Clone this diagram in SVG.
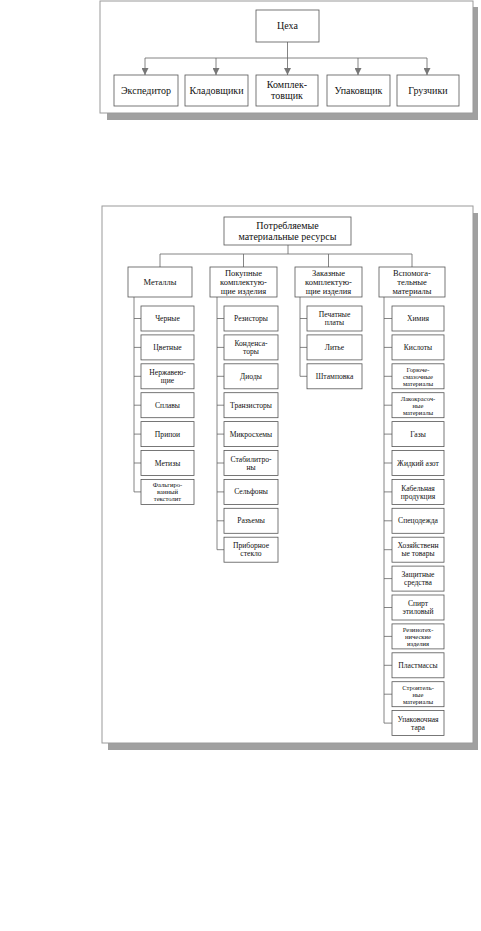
<svg xmlns="http://www.w3.org/2000/svg" width="481" height="931" viewBox="0 0 481 931">
<defs>
<style>
.bg{fill:#fff}
.panel{fill:#fff;stroke:#9a9a9a;stroke-width:1}
.shadow{fill:#a0a0a0}
.box{fill:#fff;stroke:#555;stroke-width:0.8}
.ln{fill:none;stroke:#666;stroke-width:0.8}
.t{font-family:"Liberation Serif","Times New Roman",serif;fill:#111;text-anchor:middle}
.t1{font-size:10px}
.t2{font-size:8.5px}
.t3{font-size:7.6px}
.t4{font-size:6.6px}
</style>
<marker id="arr" viewBox="0 0 10 10" refX="10" refY="5" markerWidth="7" markerHeight="7" orient="auto" markerUnits="userSpaceOnUse">
<path d="M0,0 L10,5 L0,10 z" fill="#777"/>
</marker>
</defs>
<rect class="bg" x="0" y="0" width="481" height="931"/>

<!-- Top panel -->
<rect class="shadow" x="107" y="7" width="371" height="113"/>
<rect class="panel" x="100" y="1" width="373" height="112"/>
<g id="top-connectors">
<path class="ln" d="M287.5,42 V58 M145,58 H427" stroke="#777"/>
<line class="ln" x1="145" y1="58" x2="145" y2="75" marker-end="url(#arr)"/>
<line class="ln" x1="216" y1="58" x2="216" y2="75" marker-end="url(#arr)"/>
<line class="ln" x1="287.5" y1="58" x2="287.5" y2="75" marker-end="url(#arr)"/>
<line class="ln" x1="358" y1="58" x2="358" y2="75" marker-end="url(#arr)"/>
<line class="ln" x1="427" y1="58" x2="427" y2="75" marker-end="url(#arr)"/>
</g>
<g id="n-tseha"><rect class="box" x="256" y="10" width="63" height="32"/><text class="t t1" x="287.5" y="29">Цеха</text></g>
<g id="n-eksp"><rect class="box" x="114" y="75" width="64" height="31"/><text class="t t1" x="146" y="94">Экспедитор</text></g>
<g id="n-klad"><rect class="box" x="185" y="75" width="63" height="31"/><text class="t t1" x="216.5" y="94">Кладовщики</text></g>
<g id="n-kompl"><rect class="box" x="256" y="75" width="62" height="31"/><text class="t t1" x="287" y="88">Комплек-</text><text class="t t1" x="287" y="99">товщик</text></g>
<g id="n-upak"><rect class="box" x="327" y="75" width="63" height="31"/><text class="t t1" x="358.5" y="94">Упаковщик</text></g>
<g id="n-gruz"><rect class="box" x="397" y="75" width="62" height="31"/><text class="t t1" x="428" y="94">Грузчики</text></g>

<!-- Bottom panel -->
<rect class="shadow" x="108" y="213" width="370" height="537"/>
<rect class="panel" x="102" y="206" width="371" height="537"/>

<g id="connectors">
<path class="ln" d="M288,245 V254 M160,254 H412 M160,254 V267 M243.5,254 V267 M328.5,254 V267 M412,254 V267"/>
<path class="ln" d="M134,297 V491.9 M134,318.5 H141 M134,347.4 H141 M134,376.3 H141 M134,405.2 H141 M134,434.1 H141 M134,463 H141 M134,491.9 H141"/>
<path class="ln" d="M217,297 V549.7 M217,318.5 H224 M217,347.4 H224 M217,376.3 H224 M217,405.2 H224 M217,434.1 H224 M217,463 H224 M217,491.9 H224 M217,520.8 H224 M217,549.7 H224"/>
<path class="ln" d="M300,297 V376.3 M300,318.5 H307 M300,347.4 H307 M300,376.3 H307"/>
<path class="ln" d="M384,297 V723.1 M384,318.5 H392 M384,347.4 H392 M384,376.3 H392 M384,405.2 H392 M384,434.1 H392 M384,463 H392 M384,491.9 H392 M384,520.8 H392 M384,549.7 H392 M384,578.6 H392 M384,607.5 H392 M384,636.4 H392 M384,665.3 H392 M384,694.2 H392 M384,723.1 H392"/>
</g>

<g id="n-root"><rect class="box" x="224" y="217" width="127" height="28"/><text class="t t1" x="287.5" y="229">Потребляемые</text><text class="t t1" x="287.5" y="240">материальные ресурсы</text></g>

<g id="n-met"><rect class="box" x="128" y="267" width="64" height="30"/><text class="t t2" x="160" y="285">Металлы</text></g>
<g id="n-pok"><rect class="box" x="210" y="267" width="67" height="30"/><text class="t t2" x="243.5" y="276">Покупные</text><text class="t t2" x="243.5" y="285">комплектую-</text><text class="t t2" x="243.5" y="294">щие изделия</text></g>
<g id="n-zak"><rect class="box" x="295" y="267" width="67" height="30"/><text class="t t2" x="328.5" y="276">Заказные</text><text class="t t2" x="328.5" y="285">комплектую-</text><text class="t t2" x="328.5" y="294">щие изделия</text></g>
<g id="n-vsp"><rect class="box" x="379" y="267" width="66" height="30"/><text class="t t2" x="412" y="276">Вспомога-</text><text class="t t2" x="412" y="285">тельные</text><text class="t t2" x="412" y="294">материалы</text></g>

<!-- Metals children -->
<g id="m1"><rect class="box" x="141" y="306" width="53" height="25"/><text class="t t3" x="167.5" y="321">Черные</text></g>
<g id="m2"><rect class="box" x="141" y="334.9" width="53" height="25"/><text class="t t3" x="167.5" y="349.9">Цветные</text></g>
<g id="m3"><rect class="box" x="141" y="363.8" width="53" height="25"/><text class="t t3" x="167.5" y="375">Нержавею-</text><text class="t t3" x="167.5" y="383">щие</text></g>
<g id="m4"><rect class="box" x="141" y="392.7" width="53" height="25"/><text class="t t3" x="167.5" y="407.7">Сплавы</text></g>
<g id="m5"><rect class="box" x="141" y="421.6" width="53" height="25"/><text class="t t3" x="167.5" y="436.6">Припои</text></g>
<g id="m6"><rect class="box" x="141" y="450.5" width="53" height="25"/><text class="t t3" x="167.5" y="465.5">Метизы</text></g>
<g id="m7"><rect class="box" x="141" y="479.4" width="53" height="25"/><text class="t t4" x="167.5" y="487.2">Фальгиро-</text><text class="t t4" x="167.5" y="494.2">ванный</text><text class="t t4" x="167.5" y="501.2">текстолит</text></g>

<!-- Purchased children -->
<g id="p1"><rect class="box" x="224" y="306" width="54" height="25"/><text class="t t3" x="251" y="321">Резисторы</text></g>
<g id="p2"><rect class="box" x="224" y="334.9" width="54" height="25"/><text class="t t3" x="251" y="346.1">Конденса-</text><text class="t t3" x="251" y="354.1">торы</text></g>
<g id="p3"><rect class="box" x="224" y="363.8" width="54" height="25"/><text class="t t3" x="251" y="378.8">Диоды</text></g>
<g id="p4"><rect class="box" x="224" y="392.7" width="54" height="25"/><text class="t t3" x="251" y="407.7">Транзисторы</text></g>
<g id="p5"><rect class="box" x="224" y="421.6" width="54" height="25"/><text class="t t3" x="251" y="436.6">Микросхемы</text></g>
<g id="p6"><rect class="box" x="224" y="450.5" width="54" height="25"/><text class="t t3" x="251" y="461.7">Стабилитро-</text><text class="t t3" x="251" y="469.7">ны</text></g>
<g id="p7"><rect class="box" x="224" y="479.4" width="54" height="25"/><text class="t t3" x="251" y="494.4">Сельфоны</text></g>
<g id="p8"><rect class="box" x="224" y="508.3" width="54" height="25"/><text class="t t3" x="251" y="523.3">Разъемы</text></g>
<g id="p9"><rect class="box" x="224" y="537.2" width="54" height="25"/><text class="t t3" x="251" y="548.4">Приборное</text><text class="t t3" x="251" y="556.4">стекло</text></g>

<!-- Ordered children -->
<g id="z1"><rect class="box" x="307" y="306" width="55" height="25"/><text class="t t3" x="334.5" y="317.2">Печатные</text><text class="t t3" x="334.5" y="325.2">платы</text></g>
<g id="z2"><rect class="box" x="307" y="334.9" width="55" height="25"/><text class="t t3" x="334.5" y="349.9">Литье</text></g>
<g id="z3"><rect class="box" x="307" y="363.8" width="55" height="25"/><text class="t t3" x="334.5" y="378.8">Штамповка</text></g>

<!-- Auxiliary children -->
<g id="v1"><rect class="box" x="392" y="306" width="52" height="25"/><text class="t t3" x="418" y="321">Химия</text></g>
<g id="v2"><rect class="box" x="392" y="334.9" width="52" height="25"/><text class="t t3" x="418" y="349.9">Кислоты</text></g>
<g id="v3"><rect class="box" x="392" y="363.8" width="52" height="25"/><text class="t t4" x="418" y="371.6">Горюче-</text><text class="t t4" x="418" y="378.6">смазочные</text><text class="t t4" x="418" y="385.6">материалы</text></g>
<g id="v4"><rect class="box" x="392" y="392.7" width="52" height="25"/><text class="t t4" x="418" y="400.5">Лакокрасоч-</text><text class="t t4" x="418" y="407.5">ные</text><text class="t t4" x="418" y="414.5">материалы</text></g>
<g id="v5"><rect class="box" x="392" y="421.6" width="52" height="25"/><text class="t t3" x="418" y="436.6">Газы</text></g>
<g id="v6"><rect class="box" x="392" y="450.5" width="52" height="25"/><text class="t t3" x="418" y="465.5">Жидкий азот</text></g>
<g id="v7"><rect class="box" x="392" y="479.4" width="52" height="25"/><text class="t t3" x="418" y="490.6">Кабельная</text><text class="t t3" x="418" y="498.6">продукция</text></g>
<g id="v8"><rect class="box" x="392" y="508.3" width="52" height="25"/><text class="t t3" x="418" y="523.3">Спецодежда</text></g>
<g id="v9"><rect class="box" x="392" y="537.2" width="52" height="25"/><text class="t t3" x="418" y="548.4">Хозяйственн</text><text class="t t3" x="418" y="556.4">ые товары</text></g>
<g id="v10"><rect class="box" x="392" y="566.1" width="52" height="25"/><text class="t t3" x="418" y="577.3">Защитные</text><text class="t t3" x="418" y="585.3">средства</text></g>
<g id="v11"><rect class="box" x="392" y="595" width="52" height="25"/><text class="t t3" x="418" y="606.2">Спирт</text><text class="t t3" x="418" y="614.2">этиловый</text></g>
<g id="v12"><rect class="box" x="392" y="623.9" width="52" height="25"/><text class="t t4" x="418" y="631.7">Резинотех-</text><text class="t t4" x="418" y="638.7">нические</text><text class="t t4" x="418" y="645.7">изделия</text></g>
<g id="v13"><rect class="box" x="392" y="652.8" width="52" height="25"/><text class="t t3" x="418" y="667.8">Пластмассы</text></g>
<g id="v14"><rect class="box" x="392" y="681.7" width="52" height="25"/><text class="t t4" x="418" y="689.5">Строитель-</text><text class="t t4" x="418" y="696.5">ные</text><text class="t t4" x="418" y="703.5">материалы</text></g>
<g id="v15"><rect class="box" x="392" y="710.6" width="52" height="25"/><text class="t t3" x="418" y="721.8">Упаковочная</text><text class="t t3" x="418" y="729.8">тара</text></g>
</svg>
